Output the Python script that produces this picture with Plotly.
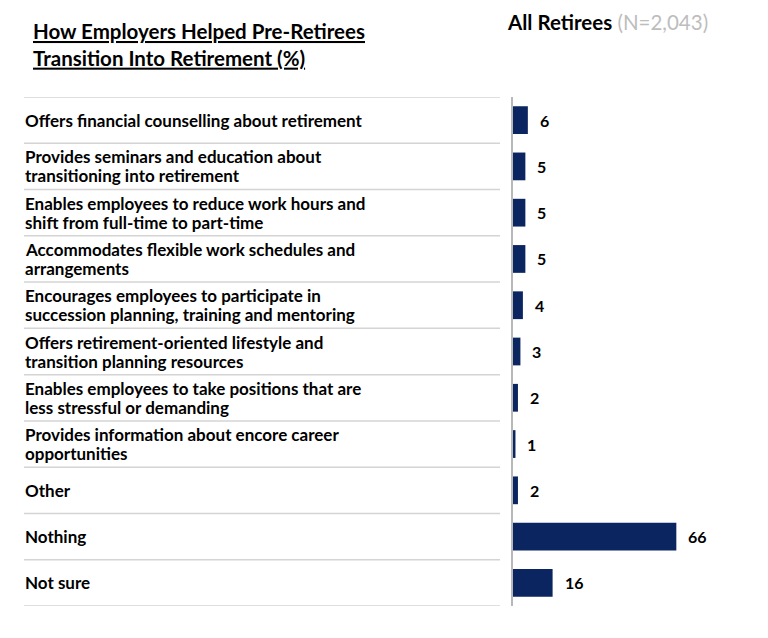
import plotly.graph_objects as go

# --- Data ---
categories = [
    "Offers financial counselling about retirement",
    "Provides seminars and education about<br>transitioning into retirement",
    "Enables employees to reduce work hours and<br>shift from full-time to part-time",
    "Accommodates flexible work schedules and<br>arrangements",
    "Encourages employees to participate in<br>succession planning, training and mentoring",
    "Offers retirement-oriented lifestyle and<br>transition planning resources",
    "Enables employees to take positions that are<br>less stressful or demanding",
    "Provides information about encore career<br>opportunities",
    "Other",
    "Nothing",
    "Not sure",
]
values = [6, 5, 5, 5, 4, 3, 2, 1, 2, 66, 16]

title_text = "How Employers Helped Pre-Retirees<br>Transition Into Retirement (%)"
series_name = "All Retirees"
sample_note = "(N=2,043)"

# --- Layout constants (pixels, page has an 8px body margin) ---
OFF = 8
W, H = 768 - OFF, 638 - OFF
left, right, top, bottom = 513 - OFF, 10, 97 - OFF, 32
plot_w = W - left - right
plot_h = H - top - bottom
navy = "#0b2560"
grid = "#d4d4d4"
font_family = "Lato, 'Open Sans', sans-serif"
label_line_gap = 19  # tighter than plotly's default line height


def px_to_paper(px):
    # px is measured in page coordinates
    return (px - OFF - left) / plot_w


def above_plot(py):
    # py is a page y coordinate above the plot area
    return 1 + (top - (py - OFF)) / plot_h


fig = go.Figure(
    go.Bar(
        x=values,
        y=categories,
        orientation="h",
        marker=dict(color=navy, line=dict(width=0)),
        cliponaxis=False,
        hoverinfo="skip",
    )
)

annotations = []
# row labels, left aligned, one annotation per line so the spacing can be tightened
for cat in categories:
    lines = cat.split("<br>")
    n = len(lines)
    for j, line in enumerate(lines):
        annotations.append(
            dict(
                x=px_to_paper(23),
                y=cat,
                xref="paper",
                yref="y",
                text=f"<b>{line}</b>",
                showarrow=False,
                xanchor="left",
                yanchor="middle",
                yshift=((n - 1) / 2 - j) * label_line_gap,
                font=dict(size=17, color="black", family=font_family),
            )
        )

# value labels just past the bar ends
for cat, v in zip(categories, values):
    annotations.append(
        dict(
            x=v,
            y=cat,
            xref="x",
            yref="y",
            text=f"<b>{v}</b>",
            showarrow=False,
            xanchor="left",
            yanchor="middle",
            xshift=10,
            font=dict(size=16, color="black", family=font_family),
        )
    )

annotations.append(
    dict(
        x=px_to_paper(31),
        y=above_plot(45),
        xref="paper",
        yref="paper",
        text=f"<b><u>{title_text}</u></b>",
        showarrow=False,
        xanchor="left",
        yanchor="middle",
        align="left",
        font=dict(size=20.5, color="black", family=font_family),
    )
)
annotations.append(
    dict(
        x=px_to_paper(505),
        y=above_plot(22),
        xref="paper",
        yref="paper",
        text=f"<b>{series_name}</b> <span style='color:#bdbdbd'>{sample_note}</span>",
        showarrow=False,
        xanchor="left",
        yanchor="middle",
        font=dict(size=20.5, color="black", family=font_family),
    )
)

# horizontal separators between rows
shapes = []
for i in range(len(categories) + 1):
    shapes.append(
        dict(
            type="line",
            xref="paper",
            yref="y",
            x0=px_to_paper(24),
            x1=px_to_paper(500),
            y0=i - 0.5,
            y1=i - 0.5,
            line=dict(color=grid, width=1.5),
        )
    )

fig.update_layout(
    width=W,
    height=H,
    margin=dict(l=left, r=right, t=top, b=bottom),
    paper_bgcolor="white",
    plot_bgcolor="white",
    showlegend=False,
    bargap=0.4,
    annotations=annotations,
    shapes=shapes,
    xaxis=dict(
        range=[0, 99],
        visible=False,
        fixedrange=True,
    ),
    yaxis=dict(
        autorange=False,
        range=[len(categories) - 0.5, -0.5],
        showticklabels=False,
        ticks="",
        showgrid=False,
        showline=True,
        linecolor="#b8b8b8",
        linewidth=1.5,
        zeroline=False,
        fixedrange=True,
    ),
)

fig.write_html("out.html")
